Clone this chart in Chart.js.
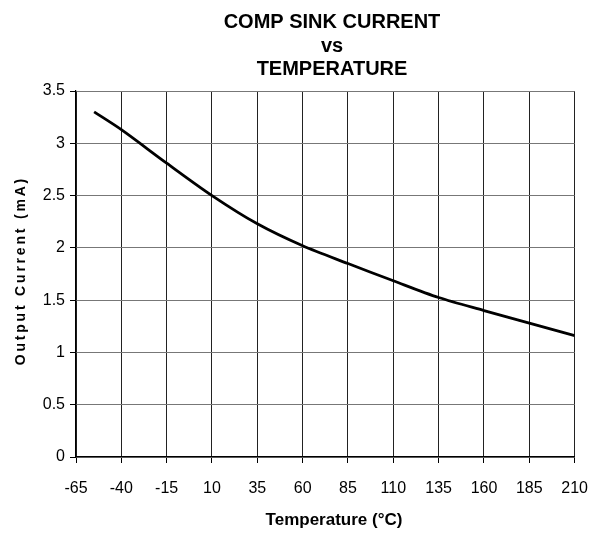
<!DOCTYPE html>
<html><head><meta charset="utf-8">
<script src="https://cdn.jsdelivr.net/npm/chart.js@4"></script>
<style>html,body{margin:0;padding:0;background:#fff}#wrap{width:604px;height:533px}</style>
</head><body><div id="wrap"><canvas id="c" width="604" height="533"></canvas></div>
<script>
const temperatures = [-55, -40, -15, 10, 35, 60, 85, 110, 135, 160, 185, 210];
const currents = [3.30, 3.13, 2.81, 2.50, 2.23, 2.02, 1.85, 1.685, 1.525, 1.40, 1.28, 1.16];
const titleLines = ['COMP SINK CURRENT', 'vs', 'TEMPERATURE'];
const xTitle = 'Temperature (°C)';
const yTitle = 'Output Current (mA)';

const FONT = "'Liberation Sans', Arial, sans-serif";

const textPlugin = {
  id: 'texts',
  afterDraw(chart) {
    const ctx = chart.ctx, a = chart.chartArea;
    ctx.save();
    ctx.fillStyle = '#000';
    ctx.textAlign = 'center';
    ctx.textBaseline = 'alphabetic';
    ctx.font = 'bold 20px ' + FONT;
    const baselines = [28, 52, 75];
    titleLines.forEach((t, i) => ctx.fillText(t, 332, baselines[i]));
    ctx.font = 'bold 17px ' + FONT;
    ctx.fillText(xTitle, 334, 525);
    ctx.translate(25, (a.top + a.bottom) / 2 - 2);
    ctx.rotate(-Math.PI / 2);
    ctx.font = 'bold 14px ' + FONT;
    ctx.letterSpacing = '2.8px';
    ctx.fillText(yTitle, 1.4, 0);
    ctx.restore();
  }
};

new Chart(document.getElementById('c'), {
  type: 'line',
  data: {
    datasets: [{
      data: temperatures.map((t, i) => ({x: t, y: currents[i]})),
      borderColor: '#000', borderWidth: 2.8, pointRadius: 0, tension: 0.3, fill: false
    }]
  },
  plugins: [textPlugin],
  options: {
    responsive: false, animation: false, devicePixelRatio: 1,
    layout: {padding: {left: 0, right: 25, top: 91, bottom: 0}},
    plugins: {legend: {display: false}, tooltip: {enabled: false}, title: {display: false}},
    scales: {
      x: {type: 'linear', min: -65, max: 210,
        ticks: {stepSize: 25, color: '#000', font: {family: FONT, size: 16}, padding: 16, maxRotation: 0},
        grid: {color: '#222', lineWidth: 1, tickLength: 6, tickColor: '#000'},
        border: {color: '#000', width: 1.2},
        afterFit: s => { s.height = 76; }
      },
      y: {min: 0, max: 3.5,
        ticks: {stepSize: 0.5, color: '#000', font: {family: FONT, size: 16}, padding: 5,
          callback: v => String(Math.round(v * 10) / 10)},
        grid: {color: '#777', lineWidth: 1, tickLength: 6, tickColor: '#000'},
        border: {color: '#000', width: 1.2},
        afterFit: s => { s.width = 76; }
      }
    }
  }
});
</script></body></html>
